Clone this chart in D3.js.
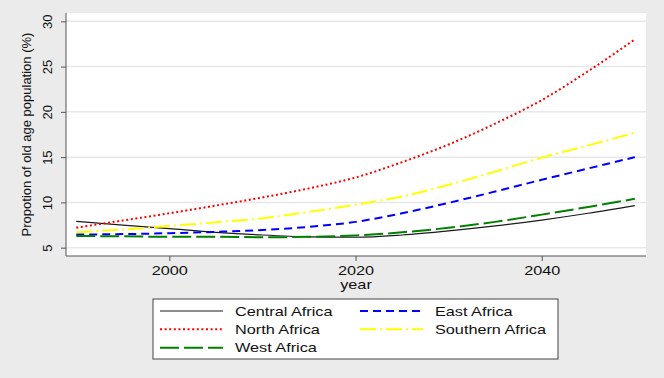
<!DOCTYPE html>
<html><head><meta charset="utf-8">
<script src="https://cdn.jsdelivr.net/npm/d3@7"></script>
<style>
html,body{margin:0;padding:0;background:#ebebeb;}
svg{display:block;font-family:"Liberation Sans",Arial,sans-serif;}
</style></head>
<body>
<svg id="chart" width="664" height="378"></svg>
<script>
const years = [1990,1995,2000,2005,2010,2015,2020,2025,2030,2035,2040,2045,2050];
const centralAfrica  = [7.9,7.5,7.1,6.7,6.4,6.2,6.15,6.4,6.85,7.4,8.05,8.8,9.65];
const eastAfrica     = [6.45,6.5,6.6,6.75,6.95,7.3,7.85,8.8,9.95,11.2,12.5,13.75,15.0];
const northAfrica    = [7.2,8.0,8.8,9.65,10.55,11.55,12.75,14.45,16.4,18.7,21.3,24.5,28.0];
const southernAfrica = [6.7,7.0,7.4,7.8,8.25,8.95,9.75,10.65,11.95,13.4,14.95,16.3,17.7];
const westAfrica     = [6.3,6.25,6.2,6.2,6.15,6.2,6.35,6.7,7.2,7.85,8.65,9.5,10.4];
const seriesNames = ["Central Africa","East Africa","North Africa","Southern Africa","West Africa"];
const yTicks = [5,10,15,20,25,30];
const xTicks = [2000,2020,2040];
const yTitle = "Propotion of old age population (%)";
const xTitle = "year";

const styles = {
  "Central Africa": {color:"#1a1a1a", width:1.2, dash:null},
  "East Africa":    {color:"#0000ff", width:2, dash:"8,5"},
  "North Africa":   {color:"#ff0000", width:2, dash:"2,2.6"},
  "Southern Africa":{color:"#ffff00", width:2, dash:"16,4,2,4"},
  "West Africa":    {color:"#008000", width:2, dash:"19,5"}
};
const values = [centralAfrica,eastAfrica,northAfrica,southernAfrica,westAfrica];
const series = seriesNames.map((n,i)=>({name:n, pts: years.map((y,j)=>({x:y, v:values[i][j]}))}));

const svg = d3.select("#chart");
const L=66, R=646, T=13, B=256;
const x = d3.scaleLinear().domain([1988.9,2051.2]).range([L,R]);
const y = d3.scaleLinear().domain([4.08,30.92]).range([B,T]);

svg.append("rect").attr("x",L).attr("y",T).attr("width",R-L).attr("height",B-T).attr("fill","#ffffff");

// gridlines
svg.append("g").selectAll("line").data(yTicks).join("line")
  .attr("x1",L).attr("x2",R).attr("y1",d=>y(d)).attr("y2",d=>y(d))
  .attr("stroke","#e8e8e8").attr("stroke-width",1.5);

// lines
const line = d3.line().x(d=>x(d.x)).y(d=>y(d.v)).curve(d3.curveMonotoneX);
svg.append("g").selectAll("path").data(series).join("path")
  .attr("d",d=>line(d.pts)).attr("fill","none")
  .attr("stroke",d=>styles[d.name].color)
  .attr("stroke-width",d=>styles[d.name].width)
  .attr("stroke-dasharray",d=>styles[d.name].dash);

// axes
const yAxis = d3.axisLeft(y).tickValues(yTicks).tickSize(5).tickFormat(d3.format("d"));
const gy = svg.append("g").attr("transform",`translate(${L},0)`).call(yAxis);
gy.select(".domain").attr("d",`M0,${T}V${B}`).attr("stroke","#555");
gy.selectAll(".tick line").attr("stroke","#555");
gy.selectAll(".tick text").attr("font-size",13).attr("fill","#111")
  .attr("x",0).attr("dy",0).attr("text-anchor","middle")
  .attr("transform","translate(-14,0) rotate(-90)");

const xAxis = d3.axisBottom(x).tickValues(xTicks).tickSize(5).tickFormat(d3.format("d"));
const gx = svg.append("g").attr("transform",`translate(0,${B})`).call(xAxis);
gx.select(".domain").attr("d",`M${L},0H${R}`).attr("stroke","#555");
gx.selectAll(".tick line").attr("stroke","#555");
gx.selectAll(".tick text").attr("font-size",13).attr("fill","#111")
  .attr("y",0).attr("dy",0).attr("transform","translate(0,19) scale(1.25,1)");

// titles
svg.append("text").attr("font-size",13).attr("fill","#111").attr("text-anchor","middle")
  .attr("transform",`translate(31,${(T+B)/2}) rotate(-90)`).text(yTitle);
svg.append("text").attr("font-size",13).attr("fill","#111").attr("text-anchor","middle")
  .attr("transform",`translate(${(L+R)/2},289) scale(1.25,1)`).text(xTitle);

// legend
const lg = svg.append("g");
lg.append("rect").attr("x",153).attr("y",299).attr("width",405).attr("height",60)
  .attr("fill","#fff").attr("stroke","#444").attr("stroke-width",1);
const rowY = [311,329.3,347.7];
const colX = [160,360];
const textX = [235,435];
series.forEach((s,i)=>{
  const c = i%2, r = Math.floor(i/2);
  const st = styles[s.name];
  lg.append("line").attr("x1",colX[c]).attr("x2",colX[c]+63)
    .attr("y1",rowY[r]).attr("y2",rowY[r])
    .attr("stroke",st.color).attr("stroke-width",st.width).attr("stroke-dasharray",st.dash);
  lg.append("text").attr("font-size",13).attr("fill","#111")
    .attr("transform",`translate(${textX[c]},${rowY[r]+4.6}) scale(1.25,1)`).text(s.name);
});
</script>
</body></html>
